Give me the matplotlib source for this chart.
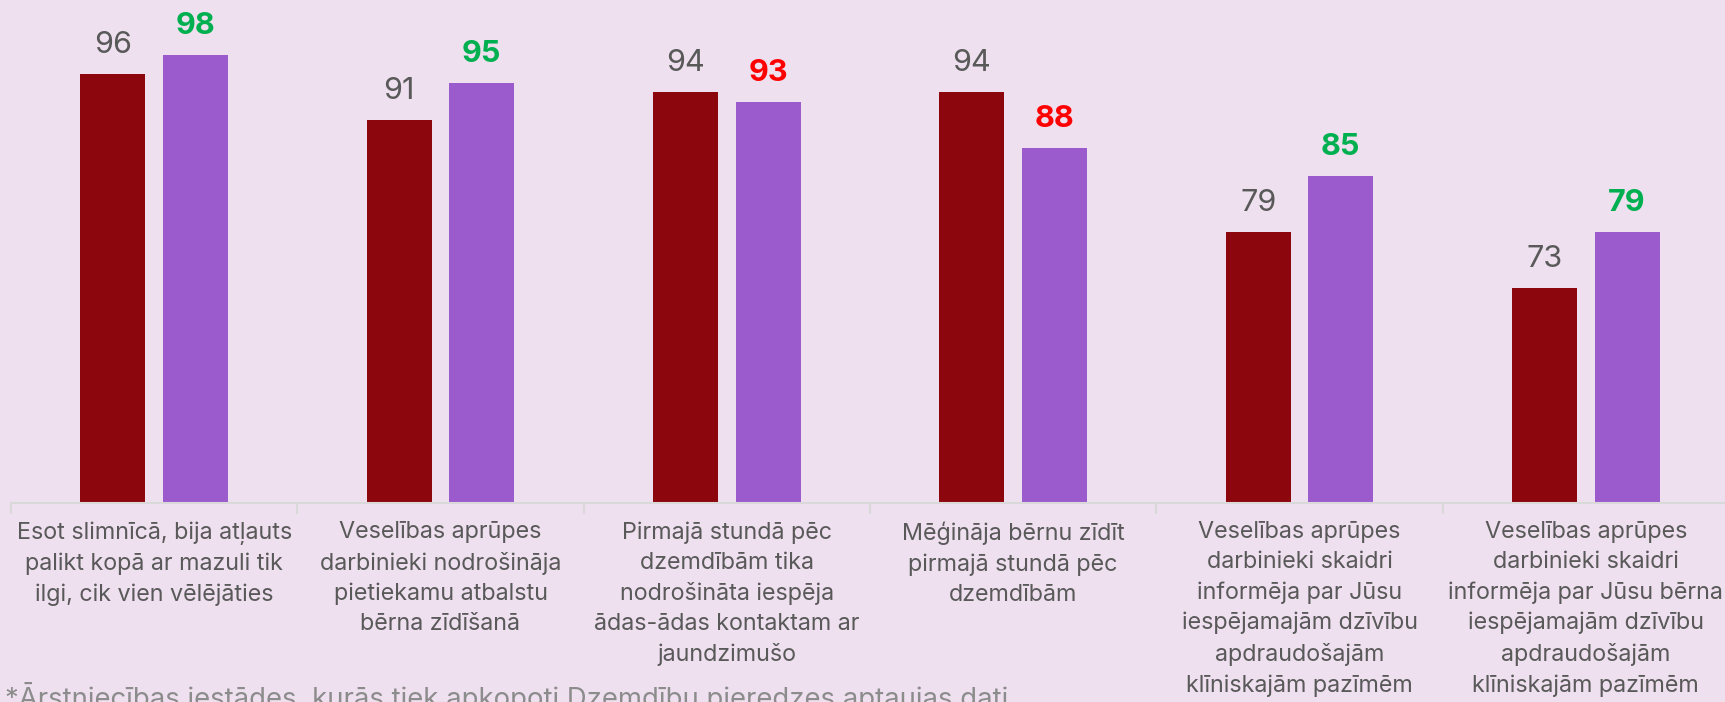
import matplotlib
matplotlib.use("Agg")
import matplotlib.pyplot as plt
import numpy as np

categories = [
    "Esot slimnīcā, bija atļauts\npalikt kopā ar mazuli tik\nilgi, cik vien vēlējāties",
    "Veselības aprūpes\ndarbinieki nodrošināja\npietiekamu atbalstu\nbērna zīdīšanā",
    "Pirmajā stundā pēc\ndzemdībām tika\nnodrošināta iespēja\nādas-ādas kontaktam ar\njaundzimušo",
    "Mēģināja bērnu zīdīt\npirmajā stundā pēc\ndzemdībām",
    "Veselības aprūpes\ndarbinieki skaidri\ninformēja par Jūsu\niespējamajām dzīvību\napdraudošajām\nklīniskajām pazīmēm",
    "Veselības aprūpes\ndarbinieki skaidri\ninformēja par Jūsu bērna\niespējamajām dzīvību\napdraudošajām\nklīniskajām pazīmēm",
]
series_a = [96, 91, 94, 94, 79, 73]
series_b = [98, 95, 93, 88, 85, 79]
footnote = "*Ārstniecības iestādes, kurās tiek apkopoti Dzemdību pieredzes aptaujas dati"

BG = "#EFE0EF"
RED = "#8B070D"
PURPLE = "#9B5BCC"
GREEN = "#00B050"
DOWN = "#FF0000"
GRAY = "#595959"

plt.rcParams['font.family'] = ['Inter', 'DejaVu Sans']

fig = plt.figure(figsize=(17.25, 7.02), dpi=100, facecolor=BG)
ax = fig.add_axes([11 / 1725, 1 - 503 / 702, 1718 / 1725, (503 - 36.5) / 702])
ax.set_facecolor(BG)

x = np.arange(len(categories))
w = 0.227
off = 0.144
ax.bar(x - off, series_a, width=w, color=RED, zorder=2)
ax.bar(x + off, series_b, width=w, color=PURPLE, zorder=2)

for xi, a, b in zip(x, series_a, series_b):
    ax.annotate(str(a), (xi - off, a), xytext=(0, 11), textcoords="offset points",
                ha="center", va="bottom", fontsize=22, color=GRAY)
    col = GREEN if b > a else DOWN
    ax.annotate(str(b), (xi + off, b), xytext=(0, 11), textcoords="offset points",
                ha="center", va="bottom", fontsize=22, color=col, fontweight="bold")

ax.set_ylim(50, 100)
ax.set_xlim(-0.5, len(categories) - 0.5)
ax.set_yticks([])
for s in ["top", "right", "left"]:
    ax.spines[s].set_visible(False)
ax.spines["bottom"].set_color("#D9D9D9")
ax.spines["bottom"].set_linewidth(1.5)

ax.set_xticks(x)
ax.set_xticklabels(categories, fontsize=16.8, color=GRAY, linespacing=1.47)
ax.tick_params(axis="x", which="major", length=0, pad=13)
ax.set_xticks(np.arange(-0.5, len(categories)), minor=True)
ax.tick_params(axis="x", which="minor", length=8, color="#D9D9D9", width=1.5)

fig.text(5 / 1725, 1 - 682 / 702, footnote, fontsize=19.8, color="#8C8C8C",
         ha="left", va="top")

fig.savefig("out.png", dpi=100, facecolor=BG)
